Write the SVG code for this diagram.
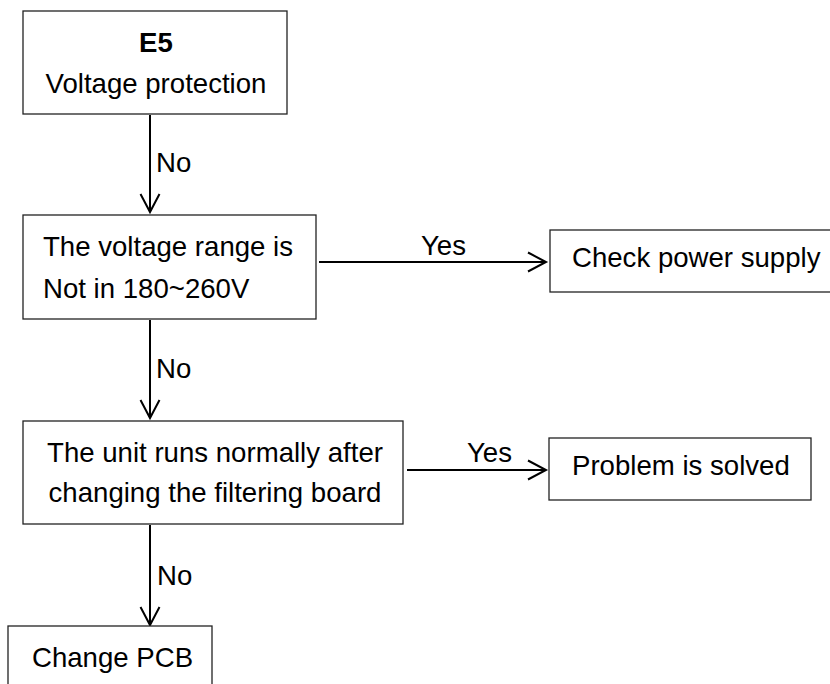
<svg xmlns="http://www.w3.org/2000/svg" width="830" height="684" viewBox="0 0 830 684">
<style>
.box{fill:#fff;stroke:#222;stroke-width:1.3}
.t{font-family:"Liberation Sans",Arial,sans-serif;font-size:27.6px;fill:#000}
.c{text-anchor:middle}
.edge{stroke:#000;stroke-width:2;fill:none}
</style>
<defs>
<marker id="ah" markerUnits="userSpaceOnUse" markerWidth="24" markerHeight="24" viewBox="-20 -12 24 24" refX="0" refY="0" orient="auto">
<path d="M-18,-9.5 L0,0 L-18,9.5" fill="none" stroke="#000" stroke-width="2"/>
</marker>
</defs>
<rect width="830" height="684" fill="#fff"/>
<g id="connectors">
<line class="edge" x1="150" y1="115" x2="150" y2="212" marker-end="url(#ah)"/>
<text class="t" x="156" y="172">No</text>
<line class="edge" x1="150" y1="320" x2="150" y2="418" marker-end="url(#ah)"/>
<text class="t" x="156" y="378">No</text>
<line class="edge" x1="150" y1="525" x2="150" y2="625" marker-end="url(#ah)"/>
<text class="t" x="157" y="585">No</text>
<line class="edge" x1="319" y1="262" x2="546" y2="262" marker-end="url(#ah)"/>
<text class="t" x="421" y="255">Yes</text>
<line class="edge" x1="407" y1="470" x2="546" y2="470" marker-end="url(#ah)"/>
<text class="t" x="467" y="462">Yes</text>
</g>
<g id="n1">
<rect class="box" x="23" y="11" width="264" height="103"/>
<text class="t c" x="156" y="52" font-weight="bold">E5</text>
<text class="t c" x="156" y="93">Voltage protection</text>
</g>
<g id="n2">
<rect class="box" x="23" y="215" width="293" height="104"/>
<text class="t" x="43" y="256">The voltage range is</text>
<text class="t" x="43" y="298">Not in 180~260V</text>
</g>
<g id="n3">
<rect class="box" x="550" y="230" width="290" height="62"/>
<text class="t" x="572" y="267">Check power supply</text>
</g>
<g id="n4">
<rect class="box" x="23" y="421" width="380" height="103"/>
<text class="t c" x="215" y="462">The unit runs normally after</text>
<text class="t c" x="215" y="502">changing the filtering board</text>
</g>
<g id="n5">
<rect class="box" x="549" y="438" width="262" height="62"/>
<text class="t" x="572" y="475">Problem is solved</text>
</g>
<g id="n6">
<rect class="box" x="8" y="626" width="204" height="70"/>
<text class="t" x="32" y="667">Change PCB</text>
</g>
</svg>
